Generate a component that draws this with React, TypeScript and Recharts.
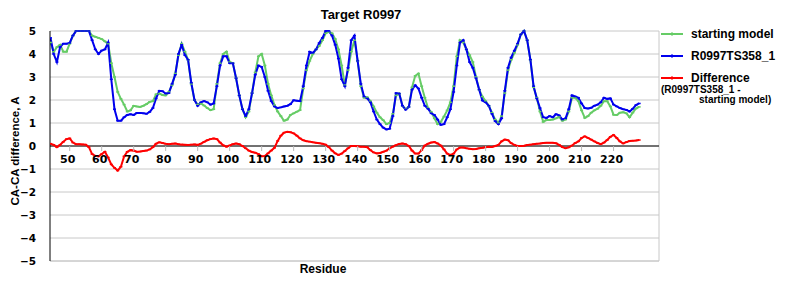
import { LineChart, Line, XAxis, YAxis, CartesianGrid, ReferenceLine } from 'recharts'

// residues run from 44 to 228, one value per residue
const FIRST_RESIDUE = 44

const startingModel = [
  4.5, 4.1, 4.3, 4.4, 4.1, 4.1, 4.45, 4.8, 5.0, 5.0,
  5.0, 5.0, 5.0, 4.8, 4.75, 4.7, 4.65, 4.55, 4.45, 3.6,
  3.0, 2.35, 2.05, 1.8, 1.5, 1.55, 1.75, 1.72, 1.7, 1.75,
  1.82, 1.92, 1.95, 2.25, 2.28, 2.22, 2.2, 2.35, 2.65, 3.15,
  3.95, 4.45, 4.1, 3.75, 2.7, 2.0, 1.8, 1.85, 1.76, 1.65,
  1.56, 1.6, 2.7, 3.6, 4.0, 4.1, 3.65, 3.6, 2.95, 2.2,
  1.6, 1.25, 1.5, 2.3, 3.2, 3.9, 4.0, 3.5, 2.7, 2.2,
  1.78, 1.5, 1.3, 1.1, 1.15, 1.35, 1.42, 1.49, 1.56, 2.5,
  3.3, 3.7, 4.0, 4.2, 4.35, 4.6, 4.9, 4.96, 4.9, 4.65,
  4.2, 3.5, 2.65, 3.3, 4.1, 4.6, 3.7, 2.6, 2.1, 2.12,
  1.95, 1.72, 1.45, 1.25, 1.12, 0.95, 1.0, 1.4, 2.2, 2.28,
  1.75, 1.6, 1.7, 2.55, 3.05, 3.15, 2.6, 2.1, 1.65, 1.48,
  1.2, 0.95, 1.05, 1.28, 1.55, 1.9, 2.6, 3.9, 4.6, 4.5,
  4.2, 3.95, 3.65, 3.0, 2.45, 2.15, 1.95, 1.75, 1.45, 1.15,
  1.0, 1.3, 2.3, 3.3, 3.75, 4.05, 4.4, 4.85, 5.0, 4.6,
  3.75, 2.55, 2.1, 1.5, 1.05, 1.13, 1.13, 1.15, 1.2, 1.27,
  1.1, 1.15, 1.5, 2.1, 2.1, 1.95, 1.55, 1.22, 1.3, 1.45,
  1.55, 1.62, 1.75, 1.95, 1.95, 1.72, 1.36, 1.35, 1.45, 1.47,
  1.42, 1.25, 1.45, 1.63, 1.7,
]

const model = [
  4.7, 4.0, 3.65, 4.3, 4.45, 4.45, 4.48, 4.8, 5.0, 5.0,
  5.0, 5.0, 5.0, 4.6, 4.2, 4.0, 4.15, 4.2, 4.5, 2.9,
  1.6, 1.1, 1.1, 1.25, 1.35, 1.38, 1.35, 1.44, 1.44, 1.42,
  1.4, 1.48, 1.65, 2.07, 2.4, 2.38, 2.28, 2.3, 2.7, 3.1,
  4.0, 4.4, 3.95, 3.75, 2.75, 2.0, 1.75, 1.9, 1.95, 1.9,
  1.8, 1.85, 2.6, 3.5, 3.9, 3.9, 3.6, 3.6, 2.95, 2.2,
  1.6, 1.3, 1.6, 2.3, 3.1, 3.5, 3.44, 3.0, 2.4, 1.95,
  1.72, 1.65, 1.68, 1.72, 1.75, 1.82, 1.99, 1.97, 1.95, 2.6,
  3.5, 4.1, 4.05, 4.2, 4.48, 4.7, 5.0, 5.0, 4.8, 4.4,
  3.8, 2.9, 2.6, 3.4, 4.6, 4.8, 3.7, 2.7, 2.15, 2.07,
  1.9, 1.5, 1.15, 0.95, 0.8, 0.72, 0.75, 1.3, 2.3, 2.28,
  1.75, 1.58, 1.7, 2.45, 2.64, 2.5, 2.1, 1.75, 1.62, 1.42,
  1.35, 1.15, 0.92, 0.95, 1.25, 1.6, 2.35, 3.5, 4.5, 4.6,
  4.2, 3.65, 3.4, 2.95, 2.45, 1.98, 1.9, 1.75, 1.4, 1.08,
  0.95, 1.2, 2.4, 3.4, 3.85, 4.15, 4.45, 4.85, 5.0, 4.6,
  3.75, 2.6, 2.07, 1.65, 1.25, 1.22, 1.3, 1.25, 1.38, 1.33,
  1.15, 1.2, 1.6, 2.2, 2.15, 2.1, 1.85, 1.65, 1.63, 1.66,
  1.75, 1.8, 1.9, 2.1, 2.05, 2.07, 1.8, 1.72, 1.65, 1.6,
  1.57, 1.5, 1.62, 1.78, 1.85,
]

const difference = [
  0.1, 0.05, -0.05, 0.05, 0.18, 0.3, 0.33, 0.15, 0.08, 0.08,
  0.07, 0.06, -0.05, -0.35, -0.43, -0.45, -0.35, -0.25, -0.5, -0.8,
  -0.95, -1.07, -0.9, -0.45, -0.25, -0.18, -0.2, -0.25, -0.24, -0.22,
  -0.2, -0.15, -0.05, 0.1, 0.16, 0.13, 0.1, 0.08, 0.1, 0.11,
  0.08, 0.06, 0.05, 0.04, 0.06, 0.07, 0.05, 0.1, 0.18, 0.25,
  0.3, 0.33, 0.3, 0.15, 0.03, -0.03, 0.02, 0.08, 0.11, 0.08,
  0.0, -0.1, -0.2, -0.26, -0.29, -0.35, -0.45, -0.44, -0.32, -0.2,
  -0.08, 0.22, 0.45, 0.58, 0.62, 0.6, 0.55, 0.45, 0.33, 0.25,
  0.21, 0.19, 0.16, 0.14, 0.12, 0.1, 0.06, -0.05, -0.2, -0.32,
  -0.39, -0.33, -0.22, -0.1, 0.0, 0.0, -0.01, -0.03, -0.03, -0.05,
  -0.18, -0.28, -0.32, -0.3, -0.25, -0.2, -0.1, -0.03, 0.04, 0.09,
  0.11, 0.08, 0.0, -0.2, -0.33, -0.33, -0.18, 0.02, 0.1, 0.15,
  0.17, 0.11, 0.02, -0.15, -0.33, -0.39, -0.33, -0.15, -0.07, -0.07,
  -0.1, -0.12, -0.14, -0.13, -0.1, -0.08, -0.05, -0.03, -0.04, 0.0,
  0.05, 0.2, 0.28, 0.25, 0.12, 0.05, 0.0, 0.0, 0.01, 0.04,
  0.06, 0.08, 0.1, 0.11, 0.13, 0.14, 0.14, 0.14, 0.12, 0.05,
  -0.05, -0.1, -0.06, 0.02, 0.13, 0.2, 0.35, 0.42, 0.35, 0.28,
  0.2, 0.13, 0.08, 0.15, 0.26, 0.4, 0.48, 0.35, 0.2, 0.11,
  0.17, 0.22, 0.23, 0.24, 0.26,
]

const residueTicks = [50, 60, 70, 80, 90, 100, 110, 120, 130, 140, 150, 160, 170, 180, 190, 200, 210, 220]
const valueTicks = [-5, -4, -3, -2, -1, 0, 1, 2, 3, 4, 5]

const data = model.map((v, i) => ({
  residue: FIRST_RESIDUE + i,
  start: startingModel[i],
  model: v,
  diff: difference[i],
}))

const W = 800
const H = 300
const PLOT_TOP = 31
const PLOT_H = 230
const ZERO_Y = PLOT_TOP + PLOT_H / 2
const SANS = '"Liberation Sans", Arial, sans-serif'
const TICK_FONT = '"DejaVu Sans", Verdana, sans-serif'

const GREEN = '#66cc66'
const BLUE = '#0000ee'
const RED = '#ff0000'

function ResidueTick(props: any) {
  const { x, payload } = props
  return (
    <g>
      <line x1={x} x2={x} y1={ZERO_Y} y2={ZERO_Y + 5} stroke="#b8b8b8" />
      <text x={x - 2} y={ZERO_Y + 17} textAnchor="middle" fontFamily={TICK_FONT} fontWeight="bold" fontSize={11} fill="#000">
        {payload.value}
      </text>
    </g>
  )
}

function ValueTick(props: any) {
  const { y, payload } = props
  const v = payload.value
  const label = v < 0 ? '\u2212' + Math.abs(v) : String(v)
  return (
    <text x={36} y={y} dy={4} textAnchor="end" fontFamily={TICK_FONT} fontWeight="bold" fontSize={10.5} fill="#000">
      {label}
    </text>
  )
}

function Dash(props: any) {
  const { cx, cy, stroke } = props
  if (cx == null || cy == null) return null
  return <line x1={cx - 1.5} x2={cx + 1.5} y1={cy} y2={cy} stroke={stroke} strokeWidth={1.5} />
}

const legendItems = [
  { label: 'starting model', color: GREEN },
  { label: 'R0997TS358_1', color: BLUE },
  { label: 'Difference', color: RED },
]

function LegendBox() {
  return (
    <div style={{ fontFamily: SANS, fontWeight: 'bold', color: '#000' }}>
      {legendItems.map((it) => (
        <div key={it.label} style={{ display: 'flex', alignItems: 'center', height: 17, marginBottom: 5 }}>
          <svg width={26} height={10} style={{ marginRight: 4 }}>
            <line x1={0} x2={22} y1={5} y2={5} stroke={it.color} strokeWidth={2} />
            <line x1={10} x2={12} y1={5} y2={5} stroke={it.color} strokeWidth={3} />
          </svg>
          <span style={{ fontSize: 12 }}>{it.label}</span>
        </div>
      ))}
      <div style={{ fontSize: 10, lineHeight: '10px', marginTop: -6 }}>(R0997TS358_1 -</div>
      <div style={{ fontSize: 10, lineHeight: '10px', paddingLeft: 38 }}>starting model)</div>
    </div>
  )
}

export default function App() {
  return (
    <div style={{ position: 'absolute', left: 0, top: 0, width: W, height: H, background: '#fff' }}>
      <div style={{ position: 'absolute', left: 361, top: 7, transform: 'translateX(-50%)', fontFamily: SANS, fontWeight: 'bold', fontSize: 13, whiteSpace: 'nowrap' }}>
        Target R0997
      </div>
      <div style={{ position: 'absolute', left: 15, top: 151, transform: 'translate(-50%, -50%) rotate(-90deg)', fontFamily: SANS, fontWeight: 'bold', fontSize: 11.5, whiteSpace: 'nowrap' }}>
        CA-CA difference, A
      </div>
      <div style={{ position: 'absolute', left: 323, top: 262, transform: 'translateX(-50%)', fontFamily: SANS, fontWeight: 'bold', fontSize: 12, whiteSpace: 'nowrap' }}>
        Residue
      </div>
      <div style={{ position: 'absolute', left: 661, top: 25, width: 139 }}>
        <LegendBox />
      </div>
      <LineChart width={W} height={H} data={data} margin={{ top: PLOT_TOP, right: 141, bottom: 9, left: 20 }}>
        <CartesianGrid vertical={false} stroke="#c8c8c8" />
        <XAxis
          dataKey="residue"
          type="number"
          domain={[43.84, 234.2]}
          ticks={residueTicks}
          interval={0}
          axisLine={{ stroke: '#c8c8c8' }}
          tickLine={false}
          tick={<ResidueTick />}
          height={30}
          allowDataOverflow
        />
        <YAxis
          type="number"
          domain={[-5, 5]}
          ticks={valueTicks}
          interval={0}
          width={30}
          axisLine={{ stroke: '#000' }}
          tickLine={false}
          tick={<ValueTick />}
        />
        <ReferenceLine x={234.2} stroke="#c8c8c8" />
        <ReferenceLine y={0} stroke="#000" />
        <Line dataKey="start" stroke={GREEN} strokeWidth={2} dot={<Dash />} isAnimationActive={false} />
        <Line dataKey="model" stroke={BLUE} strokeWidth={2} dot={<Dash />} isAnimationActive={false} />
        <Line dataKey="diff" stroke={RED} strokeWidth={2} dot={<Dash />} isAnimationActive={false} />
      </LineChart>
    </div>
  )
}
